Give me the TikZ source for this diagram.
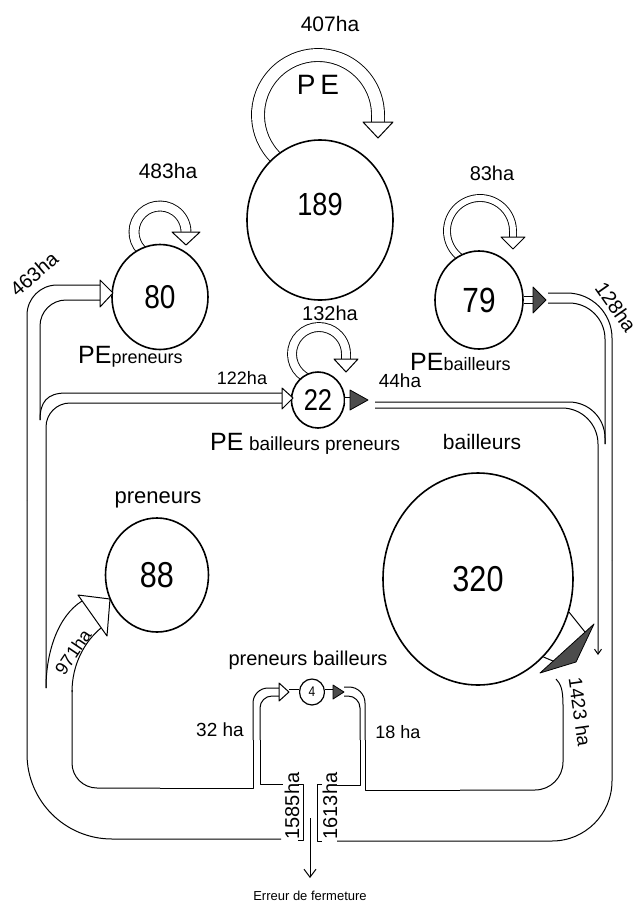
\documentclass[tikz,border=0pt]{standalone}
\usepackage{fontspec}
\setmainfont{Liberation Sans}
\newfontfamily\numfont{Liberation Sans}[FakeStretch=0.85]
\usetikzlibrary{shapes.geometric,arrows.meta}
\newcommand\fsz[1]{\fontsize{#1}{#1}\selectfont}
\begin{document}
\begin{tikzpicture}[x=1pt,y=-1pt,
  chan/.style={line width=1pt, line join=round},
  bub/.style={ellipse, draw, line width=1.6pt, fill=white, inner sep=0pt},
  hollow/.style={draw, fill=white, line width=1pt, line join=round},
  dark/.style={draw, fill=black!70, line width=0.8pt, line join=round},
  band/.style={double, double distance=#1, line width=0.9pt},
  lab/.style={inner sep=0pt, font=\fsz{20}},
  num/.style={inner sep=0pt, font=\numfont\fsz{32}}
]
\useasboundingbox (0,0) rectangle (642,903);

% ---------- self loops (drawn first, hidden under the circles) ----------
\draw[band=12pt] (318,115) ++(128:60) arc[start angle=128,end angle=360,radius=60] -- (378,122);
\draw[band=9pt]  (160,232) ++(125:26) arc[start angle=125,end angle=360,radius=26];
\draw[band=6pt]  (480,231) ++(118:33) arc[start angle=118,end angle=360,radius=33] -- (513,237);
\draw[band=8pt]  (319,354) ++(112:27) arc[start angle=112,end angle=360,radius=27] -- (346,359);

% ---------- left system ----------
\draw[chan, rounded corners=30pt] (100,285) -- (27,285) -- (27,500);
\draw[chan, rounded corners=85pt] (27,500) -- (27,839) -- (281,839);
\draw[chan, rounded corners=26pt] (100,300) -- (40,300) -- (40,420);
\draw[chan] (40,420) .. controls (40,402) and (47,393) .. (66,393) -- (282,393);
\draw[chan, rounded corners=24pt] (282,403) -- (46,403) -- (46,688);
\draw[chan] (46,688) .. controls (46,652) and (58,616) .. (82,601);
\draw[chan] (101,628) .. controls (84,642) and (72,665) .. (72,692);
\draw[chan, rounded corners=25pt] (72,690) -- (72,788) -- (160,788);
\draw[chan] (160,788) -- (253,788) -- (253,740);
\draw[chan, rounded corners=15pt] (253,740) -- (253,688) -- (279,688);
\draw[chan] (283,784) -- (260,784) -- (260,740);
\draw[chan, rounded corners=12pt] (260,740) -- (260,696) -- (279,696);

% ---------- centre brackets ----------
\draw[chan] (298,784) -- (303,784) -- (303,840) -- (298,840);
\draw[chan] (322,784) -- (317,784) -- (317,841) -- (322,841);

% ---------- right system ----------
\draw[chan, rounded corners=16pt] (344,687) -- (365,687) -- (365,740);
\draw[chan, rounded corners=12pt] (344,696) -- (360,696) -- (360,740);
\draw[chan] (360,740) -- (360,785) -- (337,785);
\draw[chan] (365,740) -- (365,790) -- (460,790);
\draw[chan, rounded corners=28pt] (460,790) -- (563,790) -- (563,705);
\draw[chan] (563,705) .. controls (563,690) and (561,684) .. (556,679);
\draw[chan, rounded corners=60pt] (337,841) -- (612,841) -- (612,560);
\draw[chan, rounded corners=45pt] (612,560) -- (612,293) -- (548,293);
\draw[chan, rounded corners=36pt] (548,303) -- (605,303) -- (605,444);
\draw[chan, rounded corners=36pt] (375,402) -- (605,402) -- (605,444);
\draw[chan, rounded corners=36pt, -{Straight Barb[length=5pt,width=7pt]}] (375,408) -- (598,408) -- (598,655);

% ---------- circles ----------
\node[bub, minimum width=146pt, minimum height=160pt] (c189) at (320,220) {};
\node[num] (n189) at (320,204) {189};
\node[bub, minimum width=96pt, minimum height=105pt, font=\numfont\fsz{33}] (c80) at (160,297) {80};
\node[bub, minimum width=88pt, minimum height=98pt, font=\numfont\fsz{35}] (c79) at (479,300) {79};
\node[bub, minimum width=53pt, minimum height=56pt, font=\numfont\fsz{30}] (c22) at (318,400) {22};
\node[bub, minimum width=103pt, minimum height=114pt, font=\numfont\fsz{36}] (c88) at (157,575) {88};
\node[bub, minimum width=190pt, minimum height=212pt, font=\numfont\fsz{36}] (c320) at (478,579) {320};
\node[bub, minimum width=25pt, minimum height=26pt, line width=1.2pt, font=\numfont\fsz{14}] (c4) at (312,692) {4};

% ---------- stems ----------
\draw[band=6pt] (c79.east) -- (533,300);
\draw[band=5pt] (c22.east) -- (351,400);
\draw[band=5pt] (c4.east) -- (333,692);
\draw[band=5pt] (289,692) -- (c4.west);
\draw[chan] (c320.-20) -- (585,632);
\draw[chan] (c320.-50) -- (553,661);

% ---------- arrowheads ----------
\draw[dark] (533,287) -- (546,300) -- (533,313) -- cycle;
\draw[dark] (350,390) -- (368,400) -- (350,410) -- cycle;
\draw[dark] (333,685) -- (344,692) -- (333,699) -- cycle;
\draw[dark] (540,673) -- (594,624) -- (576,662) -- cycle;
\draw[hollow] (100,280) -- (113,293) -- (100,307) -- cycle;
\draw[hollow] (282,388) -- (293,398) -- (282,409) -- cycle;
\draw[hollow] (279,683) -- (289,692) -- (279,701) -- cycle;
\draw[hollow] (78,595) -- (110,599) -- (107,636) -- cycle;
\draw[hollow] (363,122) -- (393,122) -- (378,138) -- cycle;
\draw[hollow] (172,232) -- (200,232) -- (186,245) -- cycle;
\draw[hollow] (501,237) -- (525,237) -- (513,249) -- cycle;
\draw[hollow] (334,359) -- (358,359) -- (346,372) -- cycle;

% ---------- closure error ----------
\coordinate (err) at (310,878);
\draw[chan, -{Straight Barb[length=8pt,width=12pt]}] (310,818) -- (err);
\node[lab, font=\fsz{13}] (terr) at (310,896) {Erreur de fermeture};

% ---------- labels ----------
\node[lab, font=\fsz{21}] (t407) at (330,24) {407ha};
\node[lab, font=\fsz{28}] (tPE) at (318,85) {P\kern5pt E};
\node[lab, font=\fsz{21}] (t483) at (168,171) {483ha};
\node[lab, font=\fsz{20}, rotate=41] (t463) at (34,274) {463ha};
\node[lab, anchor=base west] (tPEp) at (78,363) {{\fsz{25}PE}{\fsz{18}preneurs}};
\node[lab, font=\fsz{20}] (t83) at (492,173) {83ha};
\node[lab, font=\fsz{20}, rotate=-55] (t128) at (616,307) {128ha};
\node[lab, anchor=base west] (tPEb) at (410,370) {{\fsz{25}PE}{\fsz{18}bailleurs}};
\node[lab, font=\fsz{20}] (t132) at (330,313) {132ha};
\node[lab, font=\fsz{18}] (t122) at (242,378) {122ha};
\node[lab, font=\fsz{19}] (t44) at (400,381) {44ha};
\node[lab, anchor=base west] (tPEbp) at (210,450) {{\fsz{25}PE} {\fsz{19}bailleurs preneurs}};
\node[lab, anchor=base, font=\fsz{21}] (tbail) at (482,449) {bailleurs};
\node[lab, anchor=base, font=\fsz{22}] (tpren) at (158,503) {preneurs};
\node[lab, font=\fsz{18}, rotate=56] (t971) at (73,652) {971ha};
\node[lab, anchor=base, font=\fsz{20}] (tpb) at (308,665) {preneurs bailleurs};
\node[lab, font=\fsz{19}] (t32) at (220,730) {32 ha};
\node[lab, font=\fsz{18}] (t18) at (398,732) {18 ha};
\node[lab, font=\fsz{19}, rotate=-82] (t1423) at (580,712) {1423 ha};
\node[lab, font=\fsz{20}, rotate=90] (t1585) at (292,806) {1585ha};
\node[lab, font=\fsz{20}, rotate=90] (t1613) at (330,806) {1613ha};
\end{tikzpicture}
\end{document}
